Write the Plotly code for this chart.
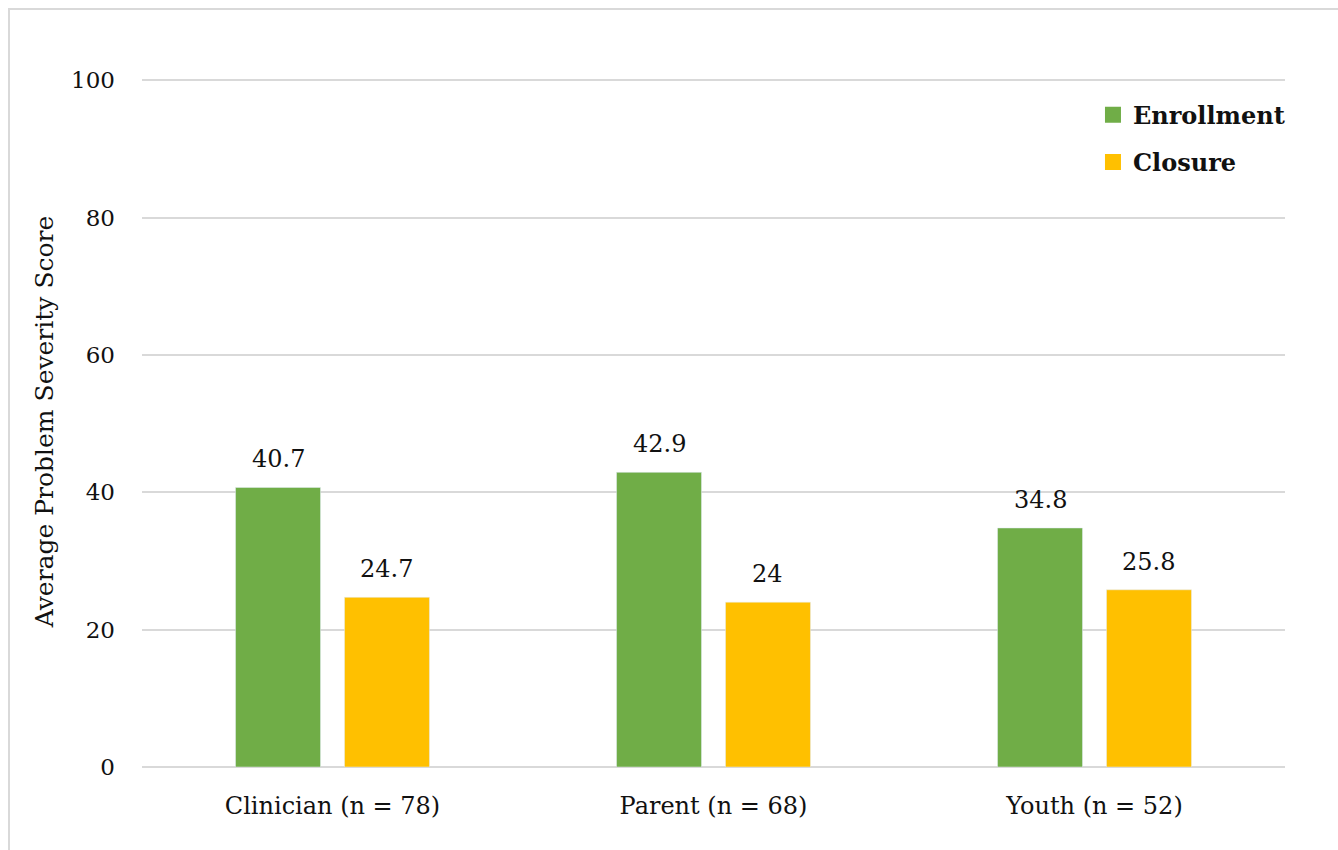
import plotly.graph_objects as go

categories = ["Clinician (n = 78)", "Parent (n = 68)", "Youth (n = 52)"]
enrollment = [40.7, 42.9, 34.8]
closure = [24.7, 24, 25.8]
y_ticks = [0, 20, 40, 60, 80, 100]

GREEN = "#70ad47"
GOLD = "#ffc000"
FONT = "DejaVu Serif"

W, H = 1338, 850
L, R, T, B = 142, 53, 76, 83
pw, ph = W - L - R, H - T - B
Y_MAX = 100.6  # a little headroom so the top gridline is drawn

BARGAP = 0.428
GROUPGAP = 0.22
cat_px = pw / len(categories)
slot_px = cat_px * (1 - BARGAP) / 2

fig = go.Figure()
series = [("Enrollment", enrollment, GREEN, -0.5), ("Closure", closure, GOLD, 0.5)]
for name, vals, col, side in series:
    fig.add_trace(go.Bar(
        x=categories, y=vals, name=name, marker_color=col,
        showlegend=False,
    ))
    # square legend swatch
    fig.add_trace(go.Scatter(
        x=[None], y=[None], mode="markers", name=name, legendgroup=name,
        marker=dict(symbol="square", size=17, color=col),
    ))
    # value labels above each bar
    for c, v in zip(categories, vals):
        fig.add_annotation(
            x=c, y=v, xref="x", yref="y", text=f"{v:g}", showarrow=False,
            xanchor="center", yanchor="bottom", xshift=side * slot_px, yshift=12,
            font=dict(family=FONT, size=24, color="#111"),
        )

fig.update_layout(
    width=W, height=H,
    margin=dict(l=L, r=R, t=T, b=B),
    paper_bgcolor="white", plot_bgcolor="white",
    barmode="group", bargap=BARGAP, bargroupgap=GROUPGAP,
    font=dict(family=FONT, size=23, color="#111"),
    legend=dict(
        x=0.832, y=0.976, xanchor="left", yanchor="top",
        font=dict(family=FONT, size=24, color="#111", weight="bold"),
        tracegroupgap=13, bgcolor="rgba(0,0,0,0)",
    ),
    xaxis=dict(showgrid=False, showline=False, ticks="", ticklabelstandoff=22,
               tickfont=dict(size=24)),
    yaxis=dict(
        range=[0, Y_MAX], tickvals=y_ticks, showgrid=True, gridcolor="#d9d9d9",
        gridwidth=1.5, zeroline=True, zerolinecolor="#d9d9d9", zerolinewidth=1.5,
        showline=False, ticks="", ticklabelstandoff=26, tickfont=dict(size=23),
        title=dict(text="Average Problem Severity Score", font=dict(size=25), standoff=10),
    ),
    shapes=[dict(
        type="rect", xref="paper", yref="paper",
        x0=(9 - L) / pw, x1=(W + 10 - L) / pw,
        y0=-(H + 10 - T - ph) / ph, y1=1 + (T - 9) / ph,
        line=dict(color="#d9d9d9", width=2), fillcolor="rgba(0,0,0,0)", layer="below",
    )],
)

fig.write_html("out.html")
